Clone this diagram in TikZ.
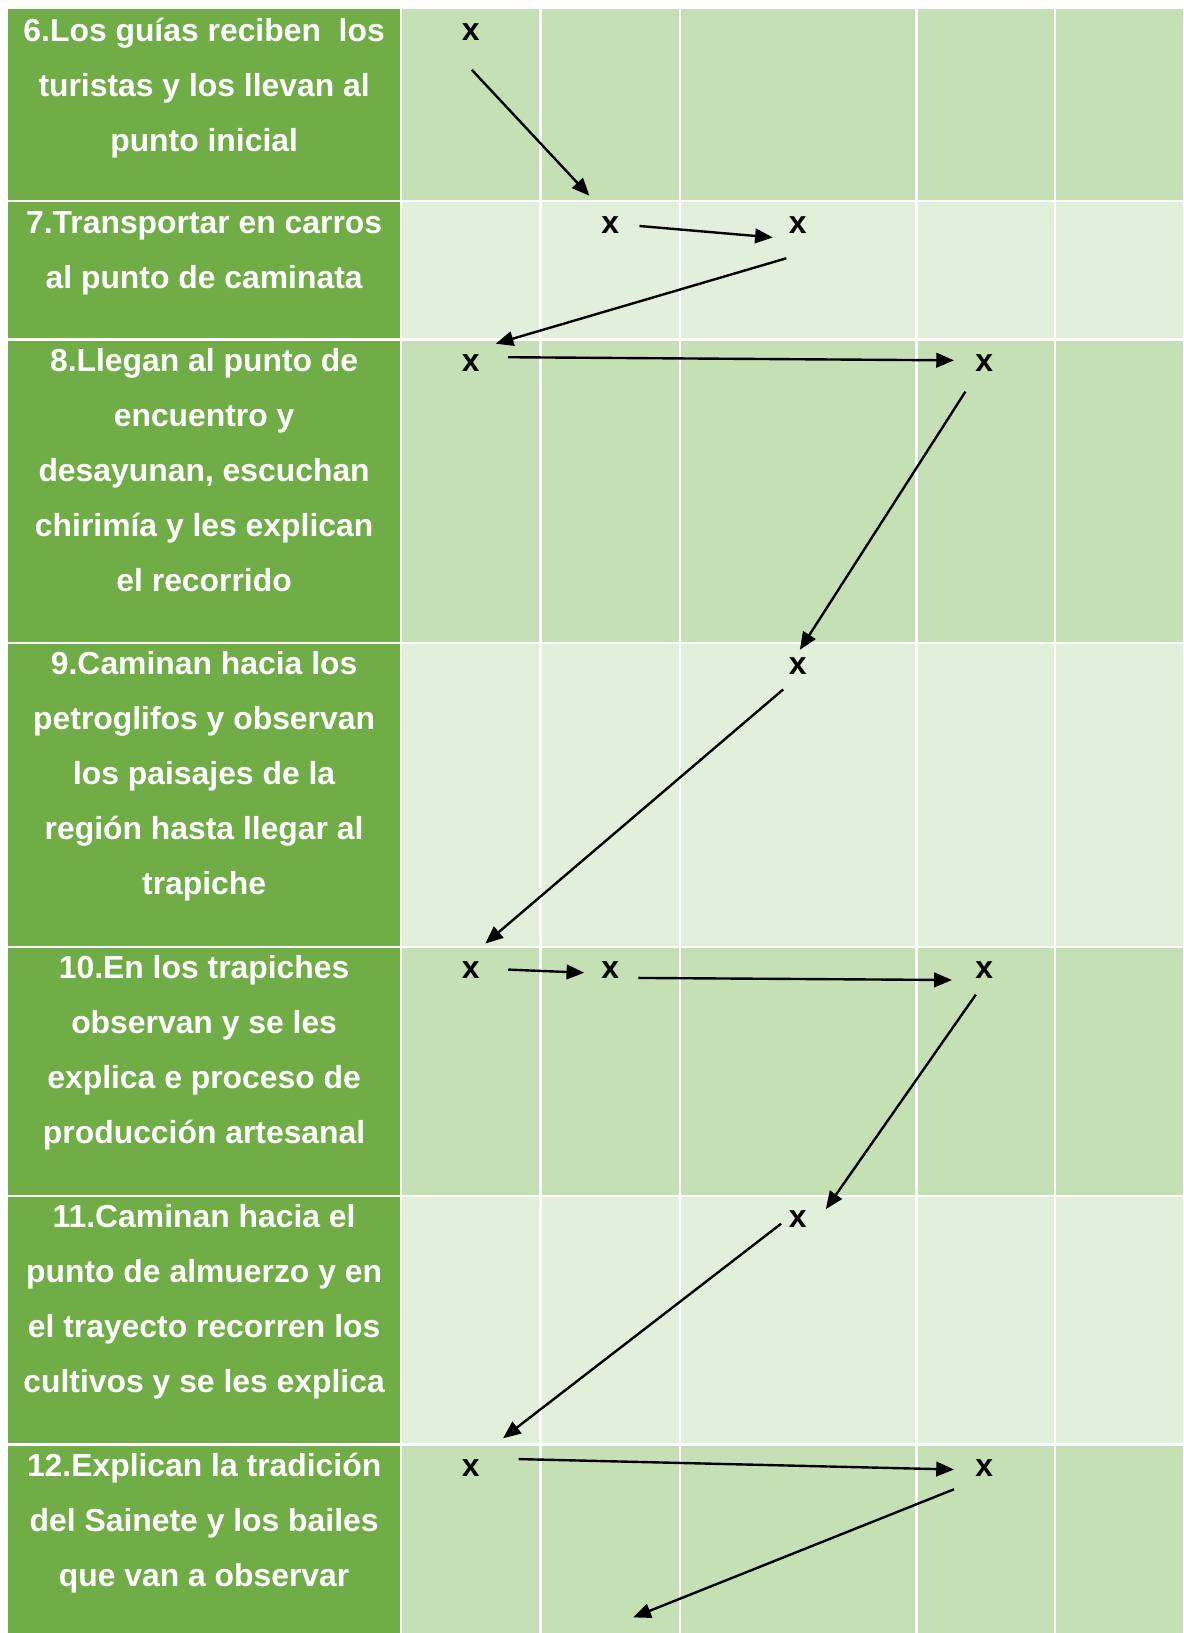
\documentclass[tikz,border=0pt]{standalone}
\usepackage{fontspec}
\setmainfont{Liberation Sans}
\usetikzlibrary{arrows.meta}
\definecolor{dkgreen}{HTML}{70AD47}
\definecolor{mdgreen}{HTML}{C5E0B4}
\definecolor{ltgreen}{HTML}{E2EFDA}
\begin{document}
\begin{tikzpicture}[x=1pt,y=-1pt,
  txt/.style={text=white, font=\bfseries\fontsize{30.6}{36}\selectfont, anchor=base, inner sep=0pt},
  xmk/.style={text=black, font=\bfseries\fontsize{30.6}{36}\selectfont, anchor=base, inner sep=0pt},
  gridline/.style={white, line width=2pt},
  arr/.style={black, line width=2.3pt, -{Triangle[length=17pt,width=14pt]}}
]
\useasboundingbox[fill=white] (0,0) rectangle (1136,1568);
% cells
\foreach \t/\b/\c in {9/193/mdgreen, 193/326/ltgreen, 326/617/mdgreen, 617/909/ltgreen, 909/1148/mdgreen, 1148/1387/ltgreen, 1387/1568/mdgreen}{
  \fill[dkgreen] (8,\t) rectangle (385,\b);
  \fill[\c] (385,\t) rectangle (1136,\b);
}
\foreach \x in {385,519,653,880,1013} \draw[gridline] (\x,9) -- (\x,1568);
\foreach \y in {193,326,617,909,1148,1387} \draw[gridline] (8,\y) -- (1136,\y);
% row texts
\foreach \l [count=\i] in {6.Los guías reciben\ \ los, turistas y los llevan al, punto inicial}
  \node[txt] (r6l\i) at (196,{40+(\i-1)*52.8}) {\l};
\foreach \l [count=\i] in {7.Transportar en carros, al punto de caminata}
  \node[txt] (r7l\i) at (196,{224+(\i-1)*52.8}) {\l};
\foreach \l [count=\i] in {8.Llegan al punto de, encuentro y, {desayunan, escuchan}, chirimía y les explican, el recorrido}
  \node[txt] (r8l\i) at (196,{357+(\i-1)*52.8}) {\l};
\foreach \l [count=\i] in {9.Caminan hacia los, petroglifos y observan, los paisajes de la, región hasta llegar al, trapiche}
  \node[txt] (r9l\i) at (196,{648+(\i-1)*52.8}) {\l};
\foreach \l [count=\i] in {10.En los trapiches, observan y se les, explica e proceso de, producción artesanal}
  \node[txt] (r10l\i) at (196,{940+(\i-1)*52.8}) {\l};
\foreach \l [count=\i] in {11.Caminan hacia el, punto de almuerzo y en, el trayecto recorren los, cultivos y se les explica}
  \node[txt] (r11l\i) at (196,{1179+(\i-1)*52.8}) {\l};
\foreach \l [count=\i] in {12.Explican la tradición, del Sainete y los bailes, que van a observar}
  \node[txt] (r12l\i) at (196,{1418+(\i-1)*52.8}) {\l};
% x marks
\node[xmk] (x6a) at (452,39) {x};
\node[xmk] (x7a) at (586,224) {x};
\node[xmk] (x7b) at (766,224) {x};
\node[xmk] (x8a) at (452,357) {x};
\node[xmk] (x8b) at (945,357) {x};
\node[xmk] (x9a) at (766,648) {x};
\node[xmk] (x10a) at (452,940) {x};
\node[xmk] (x10b) at (586,940) {x};
\node[xmk] (x10c) at (945,940) {x};
\node[xmk] (x11a) at (766,1179) {x};
\node[xmk] (x12a) at (452,1418) {x};
\node[xmk] (x12b) at (945,1418) {x};
% arrow end points
\coordinate (a1s) at (453,67);   \coordinate (a1e) at (566,188);
\coordinate (a2s) at (614,217);  \coordinate (a2e) at (742,228);
\coordinate (a3s) at (755,248);  \coordinate (a3e) at (476,330);
\coordinate (a4s) at (488,343);  \coordinate (a4e) at (916,346);
\coordinate (a5s) at (927,376);  \coordinate (a5e) at (768,624);
\coordinate (a6s) at (752,662);  \coordinate (a6e) at (466,906);
\coordinate (a7s) at (488,931);  \coordinate (a7e) at (561,934);
\coordinate (a8s) at (613,939);  \coordinate (a8e) at (914,941);
\coordinate (a9s) at (937,955);  \coordinate (a9e) at (793,1161);
\coordinate (a10s) at (750,1175); \coordinate (a10e) at (483,1381);
\coordinate (a11s) at (498,1401); \coordinate (a11e) at (916,1411);
\coordinate (a12s) at (916,1430); \coordinate (a12e) at (608,1553);
\foreach \k in {1,...,12} \draw[arr] (a\k s) -- (a\k e);
\end{tikzpicture}
\end{document}
